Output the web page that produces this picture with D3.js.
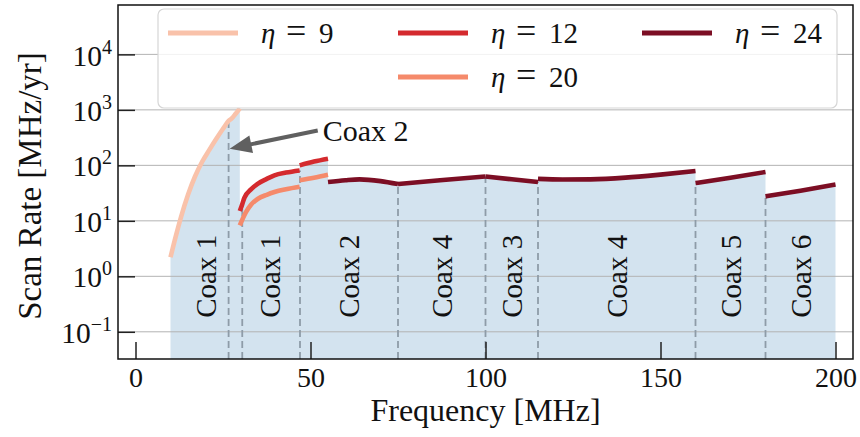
<!DOCTYPE html>
<html>
<head>
<meta charset="utf-8">
<script src="https://cdn.jsdelivr.net/npm/d3@7"></script>
<style>
  body { margin: 0; background: #fff; }
  svg { display: block; }
  text { font-family: "Liberation Serif", "Times New Roman", serif; fill: #111; }
</style>
</head>
<body>
<svg id="chart" width="860" height="437"></svg>
<script>
// Scan rate [MHz/yr] versus frequency [MHz] for several η settings.
const eta9Freq = [10, 11.5, 13, 15, 17, 19, 21, 23, 25, 26.6, 27.5, 28.5, 29.8];
const eta9Rate = [2.2, 5.25, 11.7, 29.5, 63, 115, 186, 295, 457, 631, 700, 832, 1070];

const eta12FreqA = [29.8, 30.5, 31.1, 33, 35, 37.5, 39.7, 43, 46.9];
const eta12RateA = [15, 20, 26, 37, 47, 57, 66, 74, 81];
const eta12FreqB = [46.9, 51, 55];
const eta12RateB = [100, 117, 132];

const eta20FreqA = [29.8, 31.6, 33, 35, 37.5, 39.7, 43, 46.9];
const eta20RateA = [8.3, 14.5, 19.5, 25, 29.5, 33, 37, 41];
const eta20FreqB = [46.9, 51, 55];
const eta20RateB = [54, 60, 68];

// η = 24 covers one piece per coax band above 55 MHz
const eta24Freq = [
  [55, 60, 64, 70, 75],
  [75, 87, 100],
  [100, 107.5, 115],
  [115, 122, 130, 140, 150, 160],
  [160, 170, 180],
  [180, 190, 200]
];
const eta24Rate = [
  [50, 54, 56, 52, 46],
  [46, 54, 63],
  [63, 56, 50],
  [57, 55.5, 56, 60, 68, 79],
  [48, 60, 76],
  [27.6, 35, 45]
];

// Coax bands
const bandEdges = [10, 30, 47, 75, 100, 115, 160, 180, 200];
const bandNames = ["Coax 1", "Coax 1", "Coax 2", "Coax 4", "Coax 3", "Coax 4", "Coax 5", "Coax 6"];
const dividerFreq = [26.6, 30.5, 47, 75, 100, 115, 160, 180];

// Callout
const calloutText = "Coax 2";
const calloutTip = [26.9, 200];
const calloutLabel = [53.5, 280];

const xTicks = [0, 50, 100, 150, 200];
const yExponents = [-1, 0, 1, 2, 3, 4];

const etaLabels = ["9", "12", "20", "24"];
const etaColors = ["#f9c2aa", "#d42a2e", "#f58a6b", "#7c0e24"];

// ---------------------------------------------------------------
const svg = d3.select("#chart");
const plot = { left: 118, right: 853, top: 5, bottom: 359 };

const x = d3.scaleLinear().domain([-5, 205]).range([plot.left, plot.right]);
const y = d3.scaleLog().domain([Math.pow(10, -1.49), Math.pow(10, 4.89)]).range([plot.bottom, plot.top]);

const zip = (a, b) => a.map((v, i) => [v, b[i]]);

svg.append("defs").append("clipPath").attr("id", "plotClip")
  .append("rect")
  .attr("x", plot.left).attr("y", plot.top)
  .attr("width", plot.right - plot.left).attr("height", plot.bottom - plot.top);

const inner = svg.append("g").attr("clip-path", "url(#plotClip)");

// Upper envelope used for the shaded coverage
const eta24Pieces = eta24Freq.map((f, i) => zip(f, eta24Rate[i]));
const envelopePieces = [zip(eta9Freq, eta9Rate), zip(eta12FreqA, eta12RateA), zip(eta12FreqB, eta12RateB), ...eta24Pieces];

const area = d3.area().curve(d3.curveMonotoneX)
  .x(d => x(d[0])).y0(plot.bottom).y1(d => y(d[1]));
inner.append("path")
  .attr("fill", "#d3e3ef")
  .attr("d", envelopePieces.map(p => area(p)).join(""));

// Height of the shading at a given frequency (lowest piece at a break)
function envelopeAt(f) {
  let best = Infinity;
  envelopePieces.forEach(p => {
    const lo = p[0][0], hi = p[p.length - 1][0];
    if (f < lo - 0.3 || f > hi + 0.3) return;
    const ff = Math.max(lo, Math.min(hi, f));
    for (let i = 0; i < p.length - 1; i++) {
      if (ff >= p[i][0] && ff <= p[i + 1][0]) {
        const t = (ff - p[i][0]) / (p[i + 1][0] - p[i][0] || 1);
        const v = Math.exp(Math.log(p[i][1]) * (1 - t) + Math.log(p[i + 1][1]) * t);
        best = Math.min(best, v);
      }
    }
  });
  return best;
}

// Horizontal grid
inner.selectAll("line.grid")
  .data(yExponents)
  .join("line")
  .attr("class", "grid")
  .attr("x1", plot.left).attr("x2", plot.right)
  .attr("y1", e => y(Math.pow(10, e))).attr("y2", e => y(Math.pow(10, e)))
  .attr("stroke", "#b3b3b3").attr("stroke-width", 1);

// Band dividers
inner.selectAll("line.divider")
  .data(dividerFreq)
  .join("line")
  .attr("class", "divider")
  .attr("x1", d => x(d)).attr("x2", d => x(d))
  .attr("y1", plot.bottom).attr("y2", d => y(envelopeAt(d)))
  .attr("stroke", "#8e9ca8").attr("stroke-width", 1.8)
  .attr("stroke-dasharray", "7,4");

// Band names
const bandMids = bandNames.map((n, i) => (bandEdges[i] + bandEdges[i + 1]) / 2);
svg.selectAll("text.band")
  .data(bandNames)
  .join("text")
  .attr("class", "band")
  .attr("transform", (d, i) => `translate(${x(bandMids[i])},${y(1)}) rotate(-90)`)
  .attr("text-anchor", "middle")
  .attr("dominant-baseline", "central")
  .attr("font-size", 29)
  .text(d => d);

// Curves
const line = d3.line().curve(d3.curveMonotoneX).x(d => x(d[0])).y(d => y(d[1]));
const series = [
  { color: etaColors[0], pieces: [zip(eta9Freq, eta9Rate)] },
  { color: etaColors[2], pieces: [zip(eta20FreqA, eta20RateA), zip(eta20FreqB, eta20RateB)] },
  { color: etaColors[1], pieces: [zip(eta12FreqA, eta12RateA), zip(eta12FreqB, eta12RateB)] },
  { color: etaColors[3], pieces: eta24Pieces }
];
series.forEach(s => {
  inner.selectAll(null)
    .data(s.pieces)
    .join("path")
    .attr("fill", "none")
    .attr("stroke", s.color)
    .attr("stroke-width", 4.6)
    .attr("stroke-linejoin", "round")
    .attr("d", line);
});

// Axes
const xAxis = d3.axisBottom(x).tickValues(xTicks).tickSize(-17).tickPadding(8).tickFormat(d3.format("d"));
const gx = svg.append("g").attr("transform", `translate(0,${plot.bottom})`).call(xAxis);
gx.select(".domain").remove();
gx.selectAll("line").attr("stroke", "#222").attr("stroke-width", 1.5);
gx.selectAll("text").attr("font-size", 28).attr("fill", "#111")
  .style("font-family", '"Liberation Serif", serif');

const yAxis = d3.axisLeft(y).tickValues(yExponents.map(e => Math.pow(10, e))).tickSize(-17).tickPadding(6);
const gy = svg.append("g").attr("transform", `translate(${plot.left},0)`).call(yAxis);
gy.select(".domain").remove();
gy.selectAll("line").attr("stroke", "#222").attr("stroke-width", 1.5);
gy.selectAll("text")
  .attr("font-size", 29.5).attr("fill", "#111").attr("dy", "0.36em")
  .style("font-family", '"Liberation Serif", serif')
  .each(function (d) {
    const e = Math.round(Math.log10(d));
    const t = d3.select(this).text("10");
    t.append("tspan").attr("dy", -12).attr("font-size", 20)
      .text(e < 0 ? "\u2212" + Math.abs(e) : String(e));
  });

// Frame
svg.append("rect")
  .attr("x", plot.left).attr("y", plot.top)
  .attr("width", plot.right - plot.left).attr("height", plot.bottom - plot.top)
  .attr("fill", "none").attr("stroke", "#111").attr("stroke-width", 1.5);

// Axis titles
svg.append("text")
  .attr("x", (plot.left + plot.right) / 2).attr("y", 421)
  .attr("text-anchor", "middle").attr("font-size", 32)
  .text("Frequency [MHz]");
svg.append("text")
  .attr("transform", `translate(30,${(plot.top + plot.bottom) / 2 + 4}) rotate(-90)`)
  .attr("text-anchor", "middle").attr("dominant-baseline", "central").attr("font-size", 33)
  .text("Scan Rate [MHz/yr]");

// Callout arrow
const tip = [x(calloutTip[0]), y(calloutTip[1])];
const lab = [x(calloutLabel[0]), y(calloutLabel[1])];
const tail = [lab[0] - 5, lab[1] - 10];
const dx = tip[0] - tail[0], dy = tip[1] - tail[1];
const len = Math.hypot(dx, dy), ux = dx / len, uy = dy / len;
const headLen = 22, headHalf = 9;
const base = [tip[0] - ux * headLen, tip[1] - uy * headLen];
svg.append("line")
  .attr("x1", tail[0]).attr("y1", tail[1]).attr("x2", base[0] + ux * 2).attr("y2", base[1] + uy * 2)
  .attr("stroke", "#606060").attr("stroke-width", 4);
svg.append("path")
  .attr("d", `M${tip[0]},${tip[1]}L${base[0] - uy * headHalf},${base[1] + ux * headHalf}L${base[0] + uy * headHalf},${base[1] - ux * headHalf}Z`)
  .attr("fill", "#606060");
svg.append("text")
  .attr("x", lab[0]).attr("y", lab[1])
  .attr("font-size", 30)
  .text(calloutText);

// Legend
const legend = svg.append("g");
legend.append("rect")
  .attr("x", 158).attr("y", 9).attr("width", 679).attr("height", 99).attr("rx", 6)
  .attr("fill", "#fff").attr("fill-opacity", 0.82)
  .attr("stroke", "#d6d6d6").attr("stroke-width", 1.2);
const colX = [168, 398, 642];
const rowY = [33, 77];
const slots = [[0, 0], [1, 0], [1, 1], [2, 0]]; // (column,row) for η = 9, 12, 20, 24
etaLabels.forEach((lbl, i) => {
  const cx = colX[slots[i][0]], cy = rowY[slots[i][1]];
  legend.append("line")
    .attr("x1", cx).attr("x2", cx + 70).attr("y1", cy).attr("y2", cy)
    .attr("stroke", etaColors[i]).attr("stroke-width", 5);
  const t = legend.append("text").attr("y", cy + 10).attr("font-size", 29);
  const tx = cx + 93;
  t.append("tspan").attr("x", tx).attr("font-style", "italic").text("\u03b7");
  t.append("tspan").attr("x", tx + 25).attr("font-size", 36).text("=");
  t.append("tspan").attr("x", tx + 58).text(lbl);
});
</script>
</body>
</html>
